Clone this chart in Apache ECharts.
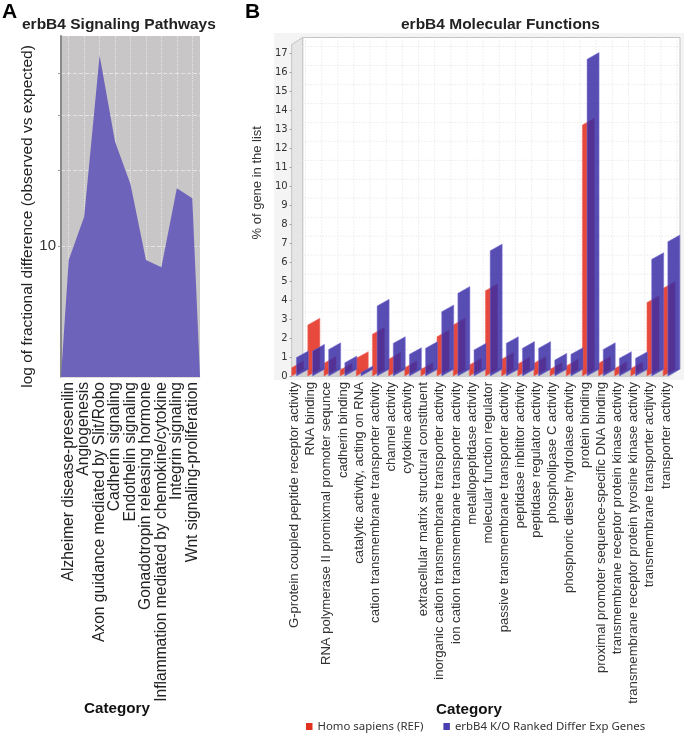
<!DOCTYPE html>
<html>
<head>
<meta charset="utf-8">
<style>html,body{margin:0;padding:0;background:#fff}#c{width:685px;height:734px}</style>
<script src="https://cdn.jsdelivr.net/npm/echarts@6/dist/echarts.min.js"></script>
</head>
<body>
<div id="c"></div>
<script>
const pathwayCategories = ['Alzheimer disease-presenilin','Angiogenesis','Axon guidance mediated by Slit/Robo','Cadherin signaling','Endothelin signaling','Gonadotropin releasing hormone','Inflammation mediated by chemokine/cytokine','Integrin signaling','Wnt signaling-proliferation'];
const pathwayValues = [9.3,11.7,27.5,17.4,13.9,9.3,8.95,13.6,12.9];
const pathwayTicks = [10,15,20,25];
const functionCategories = ['G-protein coupled peptide receptor activity','RNA binding','RNA polymerase II promixmal promoter sequnce','cadherin binding','catalytic activity, acting on RNA','cation transmembrane transporter activity','channel activity','cytokine activity','extracellular matrix structural constituent','inorganic cation transmembrane transporter activity','ion cation transmembrane transporter activity','metallopeptidase activity','molecular function regulator','passive transmembrane transporter activity','peptidase inbititor activity','peptidase regulator activity','phospholipase C activity','phosphoric diester hydrolase activity','protein binding','proximal promoter sequence-specific DNA binding','transmembrane receptor protein kinase activity','transmembrane receptor protein tyrosine kinase activity','transmembrane transporter actijvity','transporter activity'];
const homoSapiens = [0.44,2.69,0.67,0.32,0.93,2.2,0.88,0.44,0.35,2.07,2.69,0.58,4.5,0.88,0.63,0.67,0.35,0.53,13.23,0.67,0.39,0.39,3.87,4.62];
const erbB4 = [0.97,1.32,1.4,0.7,0.18,3.69,1.72,1.14,1.46,3.39,4.36,1.37,6.6,1.72,1.46,1.46,0.84,1.14,16.7,1.4,0.93,0.93,6.15,7.08];
const functionTicks = [0,1,2,3,4,5,6,7,8,9,10,11,12,13,14,15,16,17];

const DX = 11, DY = 7, BAR_W = 12, BAR_RISE = 6.7;
const SANS = '"Liberation Sans", Arial, sans-serif';

function barRender(shift, color, opacity, edge){
  return function(params, api){
    const base = api.coord([api.value(0), 0]);
    const top = api.coord([api.value(0), api.value(1)]);
    const x = base[0] + shift;
    return {type:'polygon', shape:{points:[[x,base[1]],[x,top[1]],[x+BAR_W,top[1]-BAR_RISE],[x+BAR_W,base[1]-BAR_RISE]]},
      style:{fill:color,opacity:opacity,stroke:edge,lineWidth:0.6}};
  };
}
function hGrid(params, api){
  const p = api.coord([0, api.value(0)]);
  const x0 = 291.7, y0 = p[1];
  return {type:'polyline', shape:{points:[[x0,y0],[x0+DX,y0-DY],[680,y0-DY]]},
    style:{fill:null,stroke:'#e0e0e0',lineWidth:1,lineDash:[1,2]}};
}
function vGrid(params, api){
  const base = api.coord([api.value(0), 0]);
  const x = base[0] + DX;
  return {type:'line', shape:{x1:x,y1:37.5,x2:x,y2:base[1]-DY},
    style:{stroke:'#e0e0e0',lineWidth:1,lineDash:[1,2]}};
}

const option = {
  animation:false,
  backgroundColor:'#fff',
  textStyle:{fontFamily:SANS},
  title:[
    {text:'A',left:-3,top:-3,textStyle:{fontSize:21,fontWeight:'bold',color:'#000',fontFamily:SANS}},
    {text:'B',left:240,top:-3,textStyle:{fontSize:21,fontWeight:'bold',color:'#000',fontFamily:SANS}},
    {text:'erbB4 Signaling Pathways',left:17,top:12,textStyle:{fontSize:15.5,fontWeight:'bold',color:'#222',fontFamily:SANS}},
    {text:'erbB4 Molecular Functions',left:396,top:12,textStyle:{fontSize:15.5,fontWeight:'bold',color:'#222',fontFamily:SANS}},
    {text:'Category',left:79,top:696,textStyle:{fontSize:15.2,fontWeight:'bold',color:'#111',fontFamily:SANS}},
    {text:'Category',left:431,top:697,textStyle:{fontSize:15.2,fontWeight:'bold',color:'#111',fontFamily:SANS}}
  ],
  legend:{left:301,top:716,itemWidth:6.5,itemHeight:7,itemGap:20,
    data:[{name:'Homo sapiens (REF)',icon:'rect',itemStyle:{color:'#e2301f'}},{name:'erbB4 K/O Ranked Differ Exp Genes',icon:'rect',itemStyle:{color:'#4a3fb0'}}],
    textStyle:{fontFamily:'"Noto Sans"',fontSize:11.4,color:'#333'}},
  grid:[
    {left:61,top:36,width:139,height:341,show:true,backgroundColor:'#c8c6c6',borderWidth:0},
    {left:286.4,top:53.5,width:387.6,height:322.5}
  ],
  xAxis:[
    {gridIndex:0,type:'category',data:pathwayCategories,boundaryGap:true,
      axisLine:{show:true,lineStyle:{color:'#ddd'}},axisTick:{show:false},
      splitLine:{show:true,alignWithLabel:true,lineStyle:{color:'#e6e6e6',type:'dotted',width:1}},
      axisLabel:{rotate:90,interval:0,margin:5,fontSize:15.6,color:'#222',fontFamily:SANS}},
    {gridIndex:0,type:'value',min:0,max:9,show:false},
    {gridIndex:1,type:'category',data:functionCategories,boundaryGap:true,
      axisLine:{show:false},axisTick:{show:false},splitLine:{show:false},
      axisLabel:{rotate:90,interval:0,margin:6,fontSize:13.1,color:'#333',fontFamily:SANS}}
  ],
  yAxis:[
    {gridIndex:0,type:'log',logBase:10,min:5,max:30.5,
      name:'log of fractional difference (observed vs expected)',nameLocation:'middle',nameGap:22,
      nameTextStyle:{fontSize:15.5,color:'#222',fontFamily:SANS,padding:[0,20,0,0]},
      axisLine:{show:true,lineStyle:{color:'#8a8a8a',width:2}},
      axisTick:{show:true,length:3,customValues:pathwayTicks,lineStyle:{color:'#999'}},
      axisLabel:{show:true,customValues:[10],fontSize:15,color:'#333',margin:5,fontFamily:SANS},
      splitLine:{show:true,lineStyle:{color:'#e4e4e4',type:'dashed',width:1}},minorTick:{show:false}},
    {gridIndex:1,type:'value',min:0,max:17,interval:1,offset:-5.3,
      name:'% of gene in the list',nameLocation:'middle',nameGap:20,
      nameTextStyle:{fontSize:13,color:'#333',fontFamily:SANS,padding:[0,0,0,64]},
      axisLine:{show:false},axisTick:{show:true,length:2,lineStyle:{color:'#999'}},
      axisLabel:{fontSize:10,color:'#333',margin:4,fontFamily:'"DejaVu Sans"'},
      splitLine:{show:false}}
  ],
  graphic:[
    {type:'rect',silent:true,z:0,shape:{x:274,y:33,width:410,height:347},style:{fill:'#f4f4f4'}},
    {type:'polygon',silent:true,z:0,shape:{points:[[302.7,37.5],[680,37.5],[680,369],[302.7,369]]},style:{fill:'#ffffff',stroke:'#c4c4c4',lineWidth:1}},
    {type:'polygon',silent:true,z:0,shape:{points:[[291.7,44.5],[302.7,37.5],[302.7,369],[291.7,377]]},style:{fill:'#e6e6e6',stroke:'#c4c4c4',lineWidth:1}},
    {type:'polygon',silent:true,z:0,shape:{points:[[291.7,377],[302.7,369],[680,369],[669,377]]},style:{fill:'#cfcfcf'}}
  ],
  series:[
    {type:'line',name:'Pathways',xAxisIndex:1,yAxisIndex:0,symbol:'none',silent:true,z:3,
      lineStyle:{width:0},areaStyle:{color:'#6a60ba',opacity:0.97,origin:'start'},
      data:[[0,5]].concat(pathwayValues.map((v,i)=>[i+0.5,v]),[[9,5]])},
    {type:'custom',name:'hgrid',xAxisIndex:2,yAxisIndex:1,silent:true,z:1,encode:{y:0},
      data:functionTicks.map(v=>[v]),renderItem:hGrid},
    {type:'custom',name:'vgrid',xAxisIndex:2,yAxisIndex:1,silent:true,z:1,encode:{x:0},
      data:functionCategories.map((c,i)=>[i]),renderItem:vGrid},
    {type:'custom',name:'Homo sapiens (REF)',xAxisIndex:2,yAxisIndex:1,z:4,encode:{x:0,y:1},itemStyle:{color:'#e2301f'},
      data:homoSapiens.map((v,i)=>[i,v]),renderItem:barRender(-2.8,'#e5392c',0.92,'#ee6a5e')},
    {type:'custom',name:'erbB4 K/O Ranked Differ Exp Genes',xAxisIndex:2,yAxisIndex:1,z:5,encode:{x:0,y:1},itemStyle:{color:'#4a3fb0'},
      data:erbB4.map((v,i)=>[i,v]),renderItem:barRender(1.9,'#3a2ea4',0.85,'#7a70d8')}
  ]
};
const chart = echarts.init(document.getElementById('c'),null,{renderer:'canvas'});
chart.setOption(option);
</script>
</body>
</html>
